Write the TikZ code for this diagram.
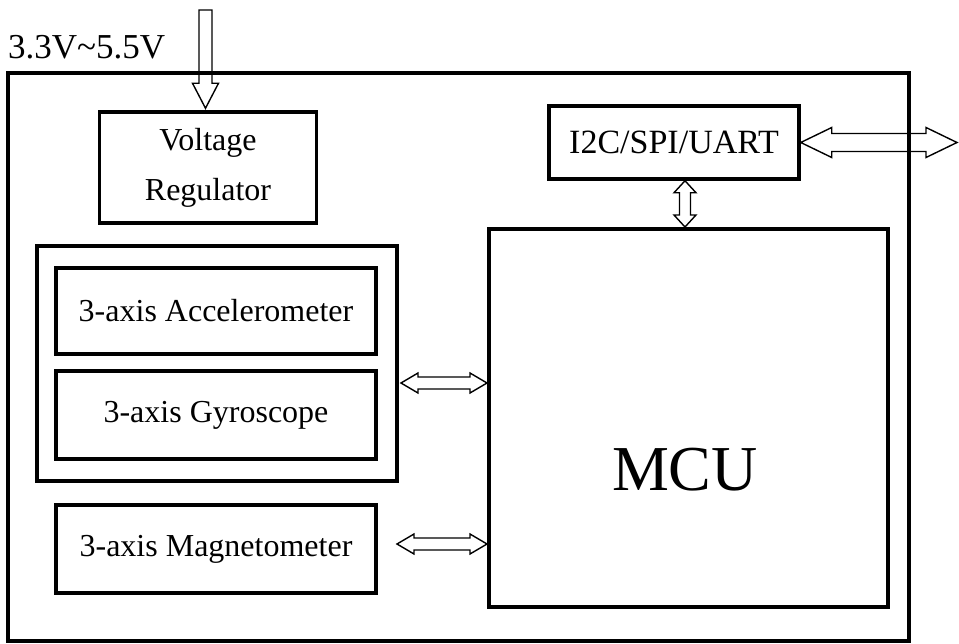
\documentclass[tikz,border=0pt]{standalone}
\usepackage{fontspec}
\setmainfont{Liberation Serif}
\usetikzlibrary{calc}
\tikzset{
  box/.style={draw=black, line width=3.5pt, inner sep=0pt, font=\fontsize{32}{50}\selectfont, align=center},
  arrowline/.style={draw=black, line width=1.4pt, line join=miter},
}
\newcommand{\hdarrow}[5]{%
  \draw[arrowline] let \p1=#1, \p2=#2 in
    (\x1,\y1) -- (\x1+#3,\y1+#4) -- (\x1+#3,\y1+#5) -- (\x2-#3,\y1+#5) -- (\x2-#3,\y1+#4)
    -- (\x2,\y1) -- (\x2-#3,\y1-#4) -- (\x2-#3,\y1-#5) -- (\x1+#3,\y1-#5) -- (\x1+#3,\y1-#4) -- cycle;}
\newcommand{\vdarrow}[5]{%
  \draw[arrowline] let \p1=#1, \p2=#2 in
    (\x1,\y1) -- (\x1+#4,\y1-#3) -- (\x1+#5,\y1-#3) -- (\x1+#5,\y2+#3) -- (\x1+#4,\y2+#3)
    -- (\x1,\y2) -- (\x1-#4,\y2+#3) -- (\x1-#5,\y2+#3) -- (\x1-#5,\y1-#3) -- (\x1-#4,\y1-#3) -- cycle;}
\begin{document}
\begin{tikzpicture}[x=1pt,y=-1pt]
\useasboundingbox (0,0) rectangle (959,644);

% boxes
\node[box, line width=4pt, minimum width=901pt, minimum height=568pt] (frame) at (458.5,357) {};
\node[box, minimum width=217pt, minimum height=111pt] (vreg) at (208,167.5) {Voltage\\Regulator};
\node[box, minimum width=250pt, minimum height=73pt, font=\fontsize{34}{40}\selectfont] (io) at (674,142.5) {I2C/SPI/UART};
\node[box, line width=4pt, minimum width=399pt, minimum height=378pt] (mcu) at (688.5,418) {};
\node[font=\fontsize{64}{64}\selectfont, inner sep=0pt] (mcutext) at (685,470) {MCU};
\node[box, minimum width=360pt, minimum height=235pt] (grp) at (217,363.5) {};
\node[box, minimum width=320pt, minimum height=86pt] (acc) at (216,311) {3-axis Accelerometer};
\node[box, minimum width=320pt, minimum height=88pt] (gyro) at (216,415) {3-axis Gyroscope};
\node[box, minimum width=320pt, minimum height=88pt] (mag) at (216,549) {3-axis Magnetometer};

% supply label
\node[anchor=west, inner sep=0pt, font=\fontsize{35}{40}\selectfont] (vlabel) at (8,47) {3.3V\textasciitilde5.5V};

% connector end points
\coordinate (vin) at (205.5,10);
\coordinate (ext) at (957,142.5);
\coordinate (a1l) at (401,383);
\coordinate (a2l) at (397,544);
\coordinate (a3) at (685,0);

% input arrow
\draw[arrowline] let \p1=(vin), \p2=($(vin |- vreg.north)+(0,-2)$) in
  (\x1-6.5,\y1) -- (\x1+6.5,\y1) -- (\x1+6.5,\y2+25) -- (\x1+13,\y2+25) -- (\x1,\y2)
  -- (\x1-13,\y2+25) -- (\x1-6.5,\y2+25) -- cycle;

% bus arrows
\hdarrow{(io.east)}{(ext)}{31}{15}{9}
\vdarrow{(a3 |- io.south)}{(a3 |- mcu.north)}{12}{11}{5.5}
\hdarrow{(a1l)}{(a1l -| mcu.west)}{17}{10}{6}
\hdarrow{(a2l)}{(a2l -| mcu.west)}{17}{10}{6}
\end{tikzpicture}
\end{document}
